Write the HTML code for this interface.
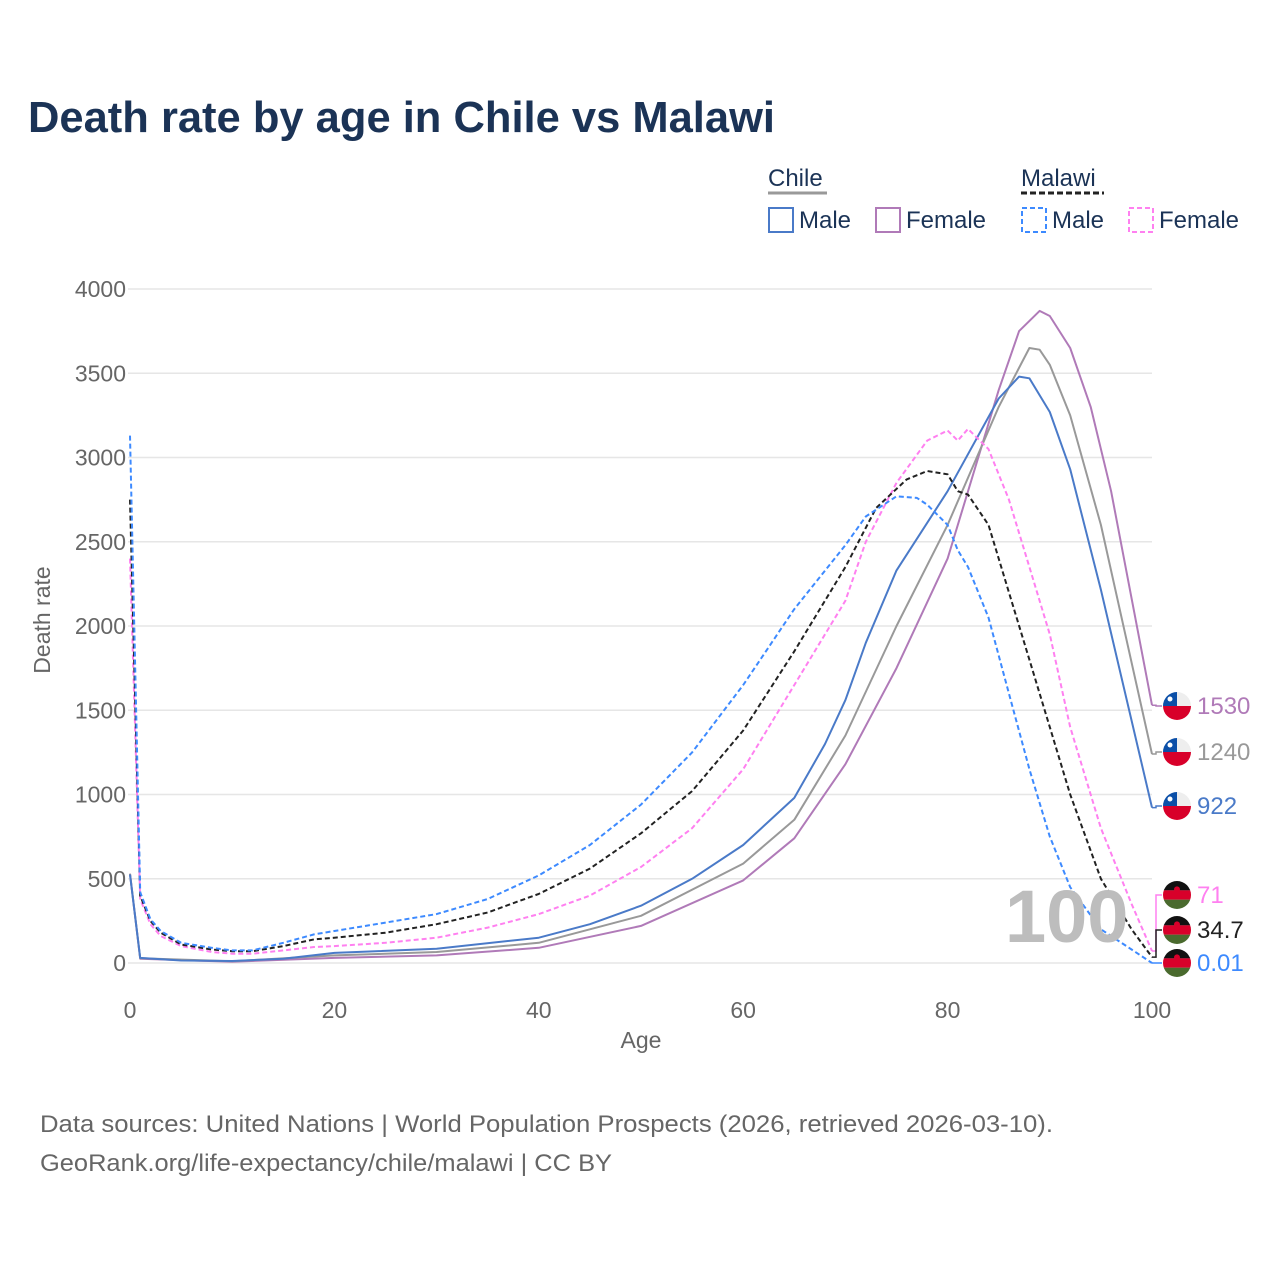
<!DOCTYPE html>
<html><head><meta charset="utf-8"><style>
body{margin:0;background:#fff;}
svg{display:block;font-family:"Liberation Sans",sans-serif;}
</style></head><body>
<svg id="chart" width="1280" height="1280">
<text x="28" y="132" font-size="44" font-weight="bold" fill="#1b3356" textLength="747" lengthAdjust="spacingAndGlyphs">Death rate by age in Chile vs Malawi</text>
<g>
<text x="768" y="186" font-size="24" fill="#1b3356">Chile</text>
<line x1="768" y1="193" x2="827" y2="193" stroke="#999" stroke-width="3"/>
<text x="1021" y="186" font-size="24" fill="#1b3356">Malawi</text>
<line x1="1021" y1="193" x2="1104" y2="193" stroke="#222" stroke-width="3" stroke-dasharray="6,3"/>
<g><rect x="769" y="208" width="24" height="24" fill="none" stroke="#4a7ac8" stroke-width="2"/><text x="799" y="228" font-size="24" fill="#1b3356">Male</text></g>
<g><rect x="876" y="208" width="24" height="24" fill="none" stroke="#b07ab8" stroke-width="2"/><text x="906" y="228" font-size="24" fill="#1b3356">Female</text></g>
<g><rect x="1022" y="208" width="24" height="24" fill="none" stroke="#3d8aff" stroke-width="2" stroke-dasharray="5,3"/><text x="1052" y="228" font-size="24" fill="#1b3356">Male</text></g>
<g><rect x="1129" y="208" width="24" height="24" fill="none" stroke="#ff80f0" stroke-width="2" stroke-dasharray="5,3"/><text x="1159" y="228" font-size="24" fill="#1b3356">Female</text></g>
</g>
<g id="grid"></g>
<g id="series"></g>
<text x="1005" y="942" font-size="74" font-weight="bold" fill="#bdbdbd">100</text>
<g id="ends"></g>
<text transform="translate(50,620) rotate(-90)" text-anchor="middle" font-size="23" fill="#666">Death rate</text>
<text x="641" y="1048" text-anchor="middle" font-size="23" fill="#666">Age</text>
<text x="40" y="1132" font-size="24" fill="#666" textLength="1013" lengthAdjust="spacingAndGlyphs">Data sources: United Nations | World Population Prospects (2026, retrieved 2026-03-10).</text>
<text x="40" y="1171" font-size="24" fill="#666" textLength="572" lengthAdjust="spacingAndGlyphs">GeoRank.org/life-expectancy/chile/malawi | CC BY</text>
</svg>
<script>
const yTicks=[0,500,1000,1500,2000,2500,3000,3500,4000];
const xTicks=[0,20,40,60,80,100];
const chMaleAges=[0,1,5,10,15,20,30,40,45,50,55,60,65,68,70,72,75,80,85,87,88,90,92,95,100];
const chMale=[525,30,15,12,25,60,85,150,230,340,500,700,980,1300,1560,1900,2330,2800,3350,3480,3470,3270,2930,2215,922];
const chTotalAges=[0,1,10,20,30,40,50,60,65,70,75,80,85,88,89,90,92,95,100];
const chTotal=[530,28,10,45,65,120,280,590,850,1350,2000,2600,3300,3650,3640,3550,3250,2600,1240];
const chFemaleAges=[0,1,10,20,30,40,50,60,65,70,75,80,85,87,89,90,92,94,96,100];
const chFemale=[530,25,8,30,45,90,220,490,740,1180,1750,2400,3400,3750,3870,3840,3650,3300,2800,1530];
const mwTotalAges=[0,1,2,3,5,8,10,12,15,18,20,25,30,35,40,45,50,55,60,65,70,73,76,78,80,81,82,84,86,88,90,92,95,98,100];
const mwTotal=[2750,400,250,180,110,80,70,70,100,140,150,180,230,300,410,560,770,1020,1380,1850,2350,2700,2870,2920,2900,2800,2780,2600,2200,1800,1400,1000,500,200,35];
const mwMaleAges=[0,1,2,3,5,8,10,12,15,18,20,25,30,35,40,45,50,55,60,65,70,72,75,77,78,80,81,82,84,86,88,90,92,95,98,100];
const mwMale=[3130,420,260,190,120,90,75,75,120,170,190,240,290,380,520,700,940,1250,1650,2100,2480,2650,2770,2760,2720,2600,2450,2350,2050,1600,1150,750,450,200,80,0.01];
const mwFemaleAges=[0,1,2,3,5,8,10,12,15,18,20,25,30,35,40,45,50,55,60,65,70,72,75,78,80,81,82,84,86,88,90,92,95,98,100];
const mwFemale=[2400,380,230,160,100,65,55,55,75,95,100,120,150,210,290,400,570,800,1150,1650,2150,2500,2850,3100,3160,3100,3170,3050,2750,2350,1950,1400,800,350,71];
const endLabels=["1530","1240","922","71","34.7","0.01"];

const NS="http://www.w3.org/2000/svg";
const X=a=>130+a*10.22, Y=v=>963-v*0.1685;
function mk(t,at,p){const e=document.createElementNS(NS,t);for(const k in at)e.setAttribute(k,at[k]);p.appendChild(e);return e;}
const grid=document.getElementById('grid');
yTicks.forEach(v=>{
  const l=mk('line',{x1:128,x2:1152,y1:Y(v),y2:Y(v),stroke:'#e6e6e6','stroke-width':1.5},grid);
  
  
  const t=mk('text',{x:126,y:Y(v)+8,'text-anchor':'end','font-size':23,fill:'#666'},grid);
  t.textContent=v;
  
  
});
xTicks.forEach(a=>{
  const t=mk('text',{x:X(a),y:1018,'text-anchor':'middle','font-size':23,fill:'#666'},grid);
  t.textContent=a;
  
  
});
const ser=document.getElementById('series');
const defs=[
 [chFemaleAges,chFemale,'#b07ab8',null,'line-chile-female'],
 [chTotalAges,chTotal,'#999',null,'line-chile-total'],
 [chMaleAges,chMale,'#4a7ac8',null,'line-chile-male'],
 [mwFemaleAges,mwFemale,'#ff80f0','5,3','line-malawi-female'],
 [mwTotalAges,mwTotal,'#222','5,3','line-malawi-total'],
 [mwMaleAges,mwMale,'#3d8aff','5,3','line-malawi-male']];
defs.forEach(([ag,vs,c,d,n])=>{
  const at={d:'M'+ag.map((a,i)=>X(a).toFixed(1)+','+Y(vs[i]).toFixed(1)).join('L'),fill:'none',stroke:c,'stroke-width':2,'stroke-linejoin':'round'};
  if(d)at['stroke-dasharray']=d;
  const p=mk('path',at,ser);
  
  
});
const ends=document.getElementById('ends');
const endY=[706,752,806,895,930,963];
const endC=['#b07ab8','#999','#4a7ac8','#ff80f0','#222','#3d8aff'];
const endV=[chFemale[chFemale.length-1],chTotal[chTotal.length-1],chMale[chMale.length-1],mwFemale[mwFemale.length-1],mwTotal[mwTotal.length-1],mwMale[mwMale.length-1]];
endLabels.forEach((lab,i)=>{
  const g=mk('g',{},ends);
  
  
  const y0=Y(endV[i]);
  mk('path',{d:`M1152,${y0}L1156,${y0}L1156,${endY[i]}L1162,${endY[i]}`,fill:'none',stroke:endC[i],'stroke-width':1.5},g);
  const cx=1177,cy=endY[i],r=14;
  const cid='c'+i;
  const cp=mk('clipPath',{id:cid},g);mk('circle',{cx,cy,r},cp);
  const f=mk('g',{'clip-path':`url(#${cid})`},g);
  if(i<3){
    mk('rect',{x:cx-r,y:cy-r,width:2*r,height:r,fill:'#eee'},f);
    mk('rect',{x:cx-r,y:cy-r,width:r,height:r,fill:'#0b4fa8'},f);
    mk('rect',{x:cx-r,y:cy,width:2*r,height:r,fill:'#d8002a'},f);
    mk('circle',{cx:cx-r/2,cy:cy-r/2,r:2.5,fill:'#fff'},f);
  }else{
    mk('rect',{x:cx-r,y:cy-r,width:2*r,height:r*0.67,fill:'#111'},f);
    mk('rect',{x:cx-r,y:cy-r/3,width:2*r,height:r*0.67,fill:'#d8002a'},f);
    mk('rect',{x:cx-r,y:cy+r/3,width:2*r,height:r*0.67,fill:'#4a6a2e'},f);
    mk('circle',{cx,cy:cy-r/3-1,r:3,fill:'#d8002a'},f);
  }
  const t=mk('text',{x:1197,y:endY[i]+8,'font-size':24,fill:endC[i]},g);
  t.textContent=lab;
});
</script>
</body></html>
